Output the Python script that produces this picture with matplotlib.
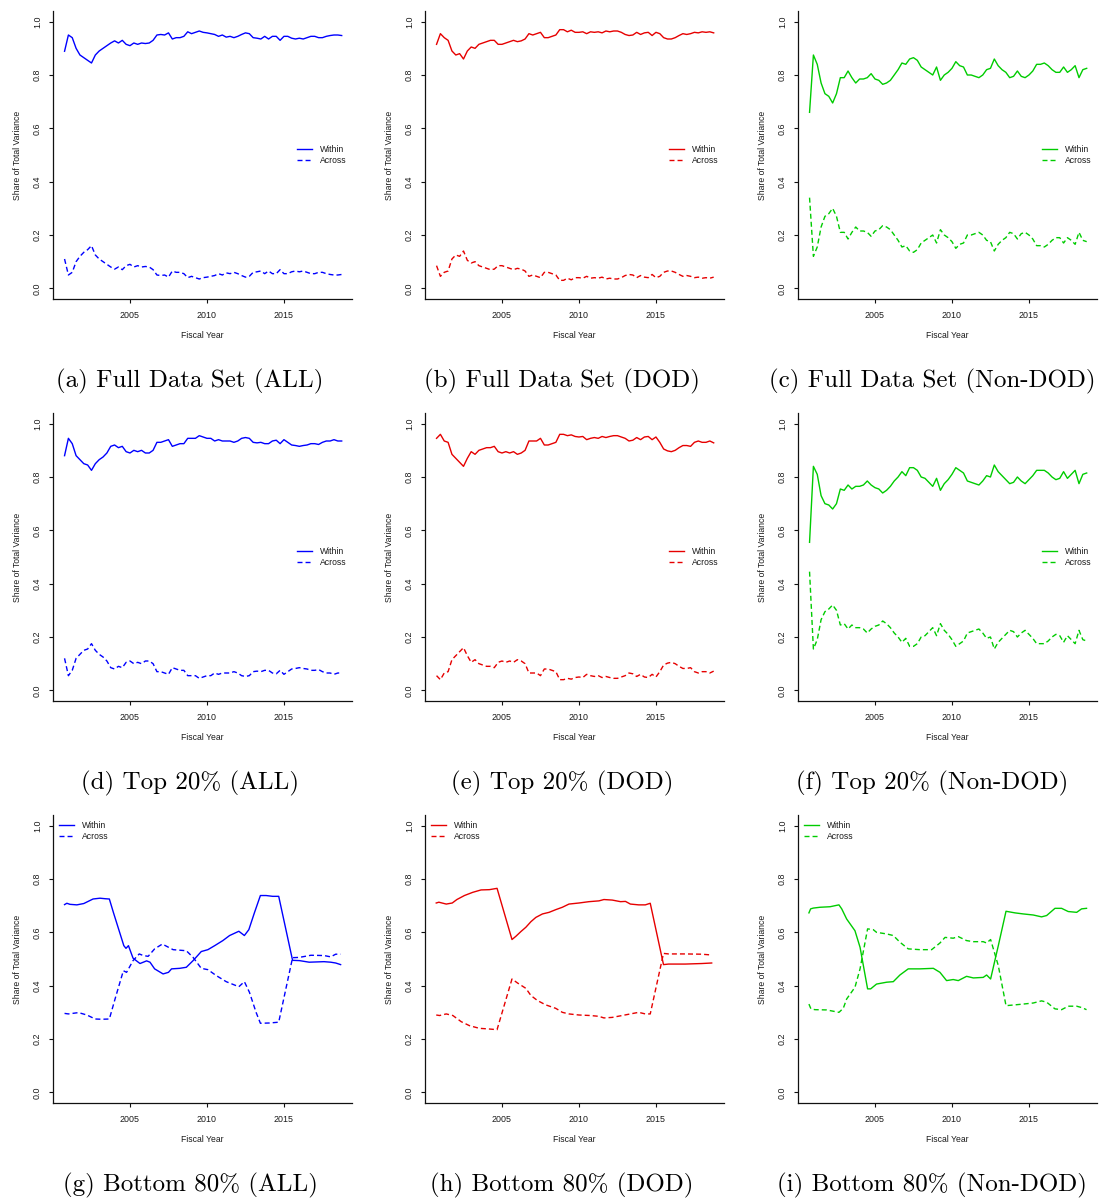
import matplotlib
matplotlib.use("Agg")
import matplotlib.pyplot as plt
from matplotlib.lines import Line2D

# ---------------- data ----------------
# quarterly sampling grid for the top two rows
Q_YEARS = [2000.75,
           2001.0, 2001.25, 2001.5, 2001.75,
           2002.0, 2002.25, 2002.5, 2002.75,
           2003.0, 2003.25, 2003.5, 2003.75,
           2004.0, 2004.25, 2004.5, 2004.75,
           2005.0, 2005.25, 2005.5, 2005.75,
           2006.0, 2006.25, 2006.5, 2006.75,
           2007.0, 2007.25, 2007.5, 2007.75,
           2008.0, 2008.25, 2008.5, 2008.75,
           2009.0, 2009.25, 2009.5, 2009.75,
           2010.0, 2010.25, 2010.5, 2010.75,
           2011.0, 2011.25, 2011.5, 2011.75,
           2012.0, 2012.25, 2012.5, 2012.75,
           2013.0, 2013.25, 2013.5, 2013.75,
           2014.0, 2014.25, 2014.5, 2014.75,
           2015.0, 2015.25, 2015.5, 2015.75,
           2016.0, 2016.25, 2016.5, 2016.75,
           2017.0, 2017.25, 2017.5, 2017.75,
           2018.0, 2018.25, 2018.5, 2018.75]

# (a) Full data set, ALL
A_WITHIN = [0.889,
            0.950, 0.940, 0.900, 0.875,
            0.865, 0.855, 0.845, 0.875,
            0.890, 0.900, 0.910, 0.920,
            0.928, 0.920, 0.930, 0.915,
            0.910, 0.920, 0.915, 0.920,
            0.918, 0.920, 0.930, 0.950,
            0.952, 0.950, 0.958, 0.935,
            0.940, 0.940, 0.945, 0.962,
            0.955, 0.960, 0.965, 0.960,
            0.958, 0.955, 0.952, 0.945,
            0.950, 0.942, 0.945, 0.940,
            0.945, 0.952, 0.958, 0.955,
            0.940, 0.938, 0.935, 0.945,
            0.935, 0.945, 0.945, 0.930,
            0.945, 0.945, 0.938, 0.935,
            0.938, 0.935, 0.940, 0.945,
            0.945, 0.940, 0.940, 0.945,
            0.948, 0.950, 0.950, 0.948]
A_ACROSS = [0.110,
            0.050, 0.060, 0.100, 0.120,
            0.135, 0.145, 0.160, 0.125,
            0.110, 0.100, 0.090, 0.080,
            0.072, 0.080, 0.070, 0.085,
            0.090, 0.080, 0.085, 0.080,
            0.082, 0.080, 0.070, 0.050,
            0.048, 0.050, 0.042, 0.065,
            0.060, 0.060, 0.055, 0.040,
            0.045, 0.040, 0.035, 0.040,
            0.042, 0.045, 0.048, 0.055,
            0.050, 0.058, 0.055, 0.060,
            0.055, 0.048, 0.042, 0.045,
            0.060, 0.062, 0.065, 0.055,
            0.065, 0.055, 0.055, 0.070,
            0.055, 0.055, 0.062, 0.065,
            0.062, 0.065, 0.060, 0.055,
            0.055, 0.060, 0.060, 0.055,
            0.052, 0.050, 0.050, 0.052]

# (b) Full data set, DOD
B_WITHIN = [0.915,
            0.955, 0.940, 0.930, 0.890,
            0.875, 0.880, 0.860, 0.890,
            0.905, 0.900, 0.915, 0.920,
            0.925, 0.930, 0.930, 0.915,
            0.915, 0.920, 0.925, 0.930,
            0.925, 0.928, 0.935, 0.955,
            0.950, 0.955, 0.960, 0.940,
            0.940, 0.945, 0.950, 0.970,
            0.970, 0.962, 0.968, 0.960,
            0.960, 0.962, 0.955, 0.962,
            0.960, 0.962, 0.958, 0.965,
            0.962, 0.965, 0.965, 0.960,
            0.952, 0.948, 0.950, 0.960,
            0.952, 0.958, 0.960, 0.948,
            0.960, 0.955, 0.940, 0.935,
            0.935, 0.940, 0.948, 0.955,
            0.952, 0.955, 0.960, 0.958,
            0.962, 0.960, 0.962, 0.958]
B_ACROSS = [0.085,
            0.045, 0.060, 0.065, 0.110,
            0.125, 0.120, 0.140, 0.105,
            0.095, 0.100, 0.085, 0.080,
            0.075, 0.070, 0.072, 0.085,
            0.085, 0.080, 0.075, 0.070,
            0.075, 0.072, 0.065, 0.045,
            0.050, 0.045, 0.040, 0.060,
            0.060, 0.055, 0.050, 0.030,
            0.030, 0.038, 0.032, 0.040,
            0.040, 0.038, 0.045, 0.038,
            0.040, 0.038, 0.042, 0.035,
            0.038, 0.035, 0.035, 0.040,
            0.048, 0.052, 0.050, 0.040,
            0.048, 0.042, 0.040, 0.052,
            0.040, 0.045, 0.060, 0.065,
            0.065, 0.060, 0.052, 0.045,
            0.048, 0.045, 0.040, 0.042,
            0.038, 0.040, 0.038, 0.042]

# (c) Full data set, Non-DOD
C_WITHIN = [0.660,
            0.875, 0.840, 0.770, 0.730,
            0.720, 0.695, 0.730, 0.790,
            0.790, 0.815, 0.790, 0.770,
            0.785, 0.785, 0.790, 0.805,
            0.785, 0.780, 0.765, 0.770,
            0.780, 0.800, 0.820, 0.845,
            0.840, 0.860, 0.865, 0.855,
            0.830, 0.820, 0.810, 0.800,
            0.830, 0.780, 0.800, 0.810,
            0.825, 0.850, 0.835, 0.830,
            0.800, 0.800, 0.795, 0.790,
            0.800, 0.820, 0.825, 0.860,
            0.835, 0.820, 0.810, 0.790,
            0.795, 0.815, 0.795, 0.790,
            0.800, 0.815, 0.840, 0.840,
            0.845, 0.835, 0.820, 0.810,
            0.810, 0.830, 0.810, 0.820,
            0.835, 0.790, 0.820, 0.825]
C_ACROSS = [0.340,
            0.120, 0.155, 0.230, 0.270,
            0.280, 0.300, 0.270, 0.210,
            0.210, 0.185, 0.210, 0.230,
            0.215, 0.215, 0.210, 0.195,
            0.215, 0.220, 0.235, 0.230,
            0.220, 0.200, 0.180, 0.155,
            0.160, 0.140, 0.135, 0.145,
            0.170, 0.180, 0.190, 0.200,
            0.170, 0.220, 0.200, 0.190,
            0.175, 0.150, 0.165, 0.170,
            0.200, 0.200, 0.205, 0.210,
            0.200, 0.180, 0.175, 0.140,
            0.165, 0.180, 0.190, 0.210,
            0.205, 0.185, 0.205, 0.210,
            0.200, 0.185, 0.160, 0.160,
            0.155, 0.165, 0.180, 0.190,
            0.190, 0.170, 0.190, 0.180,
            0.165, 0.210, 0.180, 0.175]

# (d) Top 20%, ALL
D_WITHIN = [0.880,
            0.945, 0.925, 0.880, 0.865,
            0.850, 0.845, 0.825, 0.850,
            0.865, 0.875, 0.890, 0.915,
            0.920, 0.910, 0.915, 0.895,
            0.890, 0.900, 0.895, 0.900,
            0.890, 0.890, 0.900, 0.930,
            0.930, 0.935, 0.940, 0.915,
            0.920, 0.925, 0.925, 0.945,
            0.945, 0.945, 0.955, 0.950,
            0.945, 0.945, 0.935, 0.940,
            0.935, 0.935, 0.935, 0.930,
            0.935, 0.945, 0.948, 0.945,
            0.930, 0.928, 0.930, 0.925,
            0.925, 0.935, 0.938, 0.925,
            0.940, 0.930, 0.920, 0.918,
            0.915, 0.918, 0.920, 0.925,
            0.925, 0.922, 0.930, 0.935,
            0.935, 0.940, 0.935, 0.935]
D_ACROSS = [0.120,
            0.055, 0.075, 0.120, 0.135,
            0.150, 0.155, 0.175, 0.150,
            0.135, 0.125, 0.110, 0.085,
            0.080, 0.090, 0.085, 0.105,
            0.110, 0.100, 0.105, 0.100,
            0.110, 0.110, 0.100, 0.070,
            0.070, 0.065, 0.060, 0.085,
            0.080, 0.075, 0.075, 0.055,
            0.055, 0.055, 0.045, 0.050,
            0.055, 0.055, 0.065, 0.060,
            0.065, 0.065, 0.065, 0.070,
            0.065, 0.055, 0.052, 0.055,
            0.070, 0.072, 0.070, 0.075,
            0.075, 0.065, 0.062, 0.075,
            0.060, 0.070, 0.080, 0.082,
            0.085, 0.082, 0.080, 0.075,
            0.075, 0.078, 0.070, 0.065,
            0.065, 0.060, 0.065, 0.065]

# (e) Top 20%, DOD
E_WITHIN = [0.945,
            0.960, 0.935, 0.930, 0.885,
            0.870, 0.855, 0.840, 0.870,
            0.895, 0.885, 0.900, 0.905,
            0.910, 0.910, 0.915, 0.895,
            0.890, 0.895, 0.890, 0.895,
            0.885, 0.890, 0.900, 0.935,
            0.935, 0.935, 0.945, 0.920,
            0.920, 0.925, 0.930, 0.960,
            0.960, 0.955, 0.958, 0.952,
            0.950, 0.952, 0.940, 0.945,
            0.948, 0.945, 0.952, 0.948,
            0.952, 0.955, 0.955, 0.950,
            0.945, 0.935, 0.938, 0.948,
            0.940, 0.950, 0.952, 0.940,
            0.950, 0.930, 0.905, 0.898,
            0.895, 0.900, 0.910, 0.918,
            0.918, 0.915, 0.930, 0.935,
            0.930, 0.930, 0.935, 0.928]
E_ACROSS = [0.055,
            0.040, 0.065, 0.070, 0.115,
            0.130, 0.145, 0.160, 0.130,
            0.105, 0.115, 0.100, 0.095,
            0.090, 0.090, 0.085, 0.105,
            0.110, 0.105, 0.110, 0.105,
            0.115, 0.110, 0.100, 0.065,
            0.065, 0.065, 0.055, 0.080,
            0.080, 0.075, 0.070, 0.040,
            0.040, 0.045, 0.042, 0.048,
            0.050, 0.048, 0.060, 0.055,
            0.052, 0.055, 0.048, 0.052,
            0.048, 0.045, 0.045, 0.050,
            0.055, 0.065, 0.062, 0.052,
            0.060, 0.050, 0.048, 0.060,
            0.050, 0.070, 0.095, 0.102,
            0.105, 0.100, 0.090, 0.082,
            0.082, 0.085, 0.070, 0.065,
            0.070, 0.070, 0.065, 0.072]

# (f) Top 20%, Non-DOD
F_WITHIN = [0.555,
            0.840, 0.810, 0.730, 0.700,
            0.695, 0.680, 0.700, 0.755,
            0.750, 0.770, 0.755, 0.765,
            0.765, 0.770, 0.785, 0.770,
            0.760, 0.755, 0.740, 0.750,
            0.765, 0.785, 0.800, 0.820,
            0.805, 0.835, 0.835, 0.825,
            0.800, 0.795, 0.780, 0.765,
            0.795, 0.750, 0.775, 0.790,
            0.810, 0.835, 0.825, 0.815,
            0.785, 0.780, 0.775, 0.770,
            0.785, 0.805, 0.800, 0.845,
            0.820, 0.805, 0.790, 0.775,
            0.780, 0.800, 0.785, 0.775,
            0.790, 0.805, 0.825, 0.825,
            0.825, 0.815, 0.800, 0.790,
            0.795, 0.820, 0.795, 0.810,
            0.825, 0.775, 0.810, 0.815]
F_ACROSS = [0.445,
            0.155, 0.190, 0.265, 0.295,
            0.305, 0.320, 0.300, 0.245,
            0.250, 0.230, 0.245, 0.235,
            0.235, 0.230, 0.215, 0.230,
            0.240, 0.245, 0.260, 0.250,
            0.235, 0.215, 0.200, 0.180,
            0.195, 0.165, 0.165, 0.175,
            0.200, 0.205, 0.220, 0.235,
            0.205, 0.250, 0.225, 0.210,
            0.190, 0.165, 0.175, 0.185,
            0.215, 0.220, 0.225, 0.230,
            0.215, 0.195, 0.200, 0.155,
            0.180, 0.195, 0.210, 0.225,
            0.220, 0.200, 0.215, 0.225,
            0.210, 0.195, 0.175, 0.175,
            0.175, 0.185, 0.200, 0.210,
            0.205, 0.180, 0.205, 0.190,
            0.175, 0.225, 0.190, 0.185]

# (g) Bottom 80%, ALL
G_W_YEARS = [2000.75, 2000.9, 2001.1, 2001.55, 2002.0, 2002.6, 2003.05, 2003.4, 2003.66,
             2003.92, 2004.6, 2004.74, 2004.9, 2005.2, 2005.65, 2006.08, 2006.3, 2006.6,
             2007.15, 2007.5, 2007.7, 2008.23, 2008.66, 2009.1, 2009.63, 2010.06, 2010.5,
             2011.03, 2011.47, 2012.07, 2012.43, 2012.72, 2013.08, 2013.47, 2013.84,
             2014.27, 2014.66, 2015.56, 2016.0, 2016.64, 2017.6, 2018.04, 2018.36, 2018.68]
G_WITHIN = [0.704, 0.709, 0.705, 0.703, 0.708, 0.725, 0.728, 0.726, 0.725,
            0.675, 0.550, 0.540, 0.550, 0.503, 0.483, 0.493, 0.488, 0.463,
            0.444, 0.450, 0.463, 0.465, 0.469, 0.494, 0.528, 0.535, 0.550,
            0.569, 0.588, 0.604, 0.588, 0.610, 0.673, 0.738, 0.738,
            0.735, 0.735, 0.495, 0.494, 0.488, 0.490, 0.488, 0.485, 0.479]
G_A_YEARS = [2000.75, 2001.0, 2001.66, 2002.2, 2002.74, 2003.17, 2003.66, 2004.03,
             2004.57, 2004.78, 2005.2, 2005.6, 2005.86, 2006.18, 2006.6, 2007.1, 2007.5,
             2007.8, 2008.66, 2009.1, 2009.63, 2010.06, 2010.6, 2011.25, 2012.07,
             2012.43, 2012.76, 2013.19, 2013.47, 2014.05, 2014.66, 2015.56, 2016.0,
             2016.75, 2017.6, 2018.04, 2018.36, 2018.68]
G_ACROSS = [0.296, 0.294, 0.299, 0.290, 0.275, 0.274, 0.275, 0.350,
            0.456, 0.450, 0.494, 0.519, 0.513, 0.510, 0.538, 0.556, 0.544,
            0.535, 0.531, 0.506, 0.465, 0.460, 0.438, 0.415, 0.396,
            0.415, 0.375, 0.300, 0.259, 0.260, 0.263, 0.505, 0.506,
            0.514, 0.513, 0.508, 0.518, 0.518]

# (h) Bottom 80%, DOD
H_W_YEARS = [2000.73, 2000.9, 2001.38, 2001.77, 2002.07, 2002.56, 2003.1, 2003.64, 2004.18,
             2004.68, 2005.65, 2005.9, 2006.23, 2006.55, 2006.88, 2007.2, 2007.63, 2008.06,
             2008.49, 2008.92, 2009.35, 2010.0, 2010.65, 2011.3, 2011.62, 2012.16, 2012.7,
             2013.02, 2013.34, 2013.88, 2014.31, 2014.63, 2015.49, 2015.82, 2016.9,
             2017.97, 2018.62]
H_WITHIN = [0.710, 0.713, 0.706, 0.710, 0.723, 0.738, 0.750, 0.759, 0.760,
            0.765, 0.573, 0.585, 0.603, 0.619, 0.640, 0.656, 0.669, 0.675,
            0.685, 0.694, 0.706, 0.710, 0.715, 0.718, 0.723, 0.721, 0.715,
            0.716, 0.706, 0.703, 0.703, 0.709, 0.479, 0.481, 0.481,
            0.483, 0.485]
H_A_YEARS = [2000.73, 2000.95, 2001.38, 2001.81, 2002.35, 2002.89, 2003.53, 2004.07,
             2004.68, 2005.65, 2006.01, 2006.55, 2006.88, 2007.31, 2007.84, 2008.49,
             2008.92, 2009.35, 2010.0, 2010.75, 2011.3, 2011.62, 2012.16, 2012.8,
             2013.34, 2013.88, 2014.31, 2014.63, 2015.49, 2015.82, 2016.9, 2017.97,
             2018.62]
H_ACROSS = [0.290, 0.288, 0.294, 0.288, 0.265, 0.250, 0.240, 0.238,
            0.235, 0.425, 0.410, 0.390, 0.363, 0.344, 0.328, 0.315,
            0.300, 0.294, 0.290, 0.288, 0.285, 0.279, 0.281, 0.288,
            0.294, 0.300, 0.294, 0.294, 0.521, 0.519, 0.519, 0.518,
            0.515]

# (i) Bottom 80%, Non-DOD
I_W_YEARS = [2000.71, 2000.82, 2001.0, 2001.43, 2002.08, 2002.66, 2002.84, 2003.16, 2003.7,
             2004.03, 2004.52, 2004.72, 2005.1, 2005.76, 2006.19, 2006.62, 2007.16, 2007.92,
             2008.79, 2009.22, 2009.65, 2010.08, 2010.41, 2010.95, 2011.39, 2012.03,
             2012.25, 2012.51, 2013.01, 2013.51, 2014.09, 2014.63, 2015.28, 2015.82,
             2016.15, 2016.69, 2017.12, 2017.55, 2018.1, 2018.42, 2018.74]
I_WITHIN = [0.673, 0.688, 0.691, 0.694, 0.696, 0.703, 0.688, 0.650, 0.606,
            0.544, 0.388, 0.388, 0.406, 0.413, 0.415, 0.440, 0.463, 0.463,
            0.465, 0.450, 0.419, 0.423, 0.419, 0.435, 0.429, 0.431,
            0.440, 0.425, 0.550, 0.679, 0.673, 0.669, 0.665, 0.658,
            0.663, 0.690, 0.690, 0.678, 0.675, 0.688, 0.690]
I_A_YEARS = [2000.71, 2000.84, 2001.1, 2001.86, 2002.66, 2002.94, 2003.16, 2003.7,
             2004.03, 2004.52, 2004.89, 2005.1, 2005.76, 2006.19, 2006.62, 2007.16,
             2007.92, 2008.68, 2009.22, 2009.55, 2010.08, 2010.41, 2010.95, 2011.39,
             2012.03, 2012.25, 2012.51, 2013.01, 2013.51, 2014.09, 2014.63, 2015.28,
             2015.82, 2016.15, 2016.69, 2017.12, 2017.55, 2018.1, 2018.42, 2018.74]
I_ACROSS = [0.331, 0.313, 0.310, 0.309, 0.300, 0.315, 0.350, 0.394,
            0.463, 0.613, 0.610, 0.600, 0.594, 0.588, 0.563, 0.538,
            0.535, 0.535, 0.560, 0.581, 0.578, 0.584, 0.569, 0.565,
            0.565, 0.560, 0.573, 0.475, 0.325, 0.328, 0.331, 0.335,
            0.343, 0.338, 0.313, 0.310, 0.323, 0.323, 0.318, 0.310]

CAPTIONS = ["(a) Full Data Set (ALL)", "(b) Full Data Set (DOD)", "(c) Full Data Set (Non-DOD)",
            "(d) Top 20% (ALL)", "(e) Top 20% (DOD)", "(f) Top 20% (Non-DOD)",
            "(g) Bottom 80% (ALL)", "(h) Bottom 80% (DOD)", "(i) Bottom 80% (Non-DOD)"]
SERIES_LABELS = ["Within", "Across"]
Y_TICKS = [0.0, 0.2, 0.4, 0.6, 0.8, 1.0]
Y_TICK_LABELS = ["0.0", "0.2", "0.4", "0.6", "0.8", "1.0"]
X_TICKS = [2005, 2010, 2015]
X_TICK_LABELS = ["2005", "2010", "2015"]

# ---------------- styling / layout ----------------
COLORS = ["#0000FF", "#E60000", "#00CC00"]
FIG_W, FIG_H = 1112, 1200
COL_LEFT = [53, 425, 798]
ROW_TOP = [11, 413, 815]
AX_W, AX_H = 299, 288
CAP_X = [190, 562, 932]
CAP_Y = [381, 783, 1185]
TEXT_COLOR = "#1a1a1a"
SANS = ["Liberation Sans", "DejaVu Sans"]

panels = [
    (Q_YEARS, A_WITHIN, Q_YEARS, A_ACROSS),
    (Q_YEARS, B_WITHIN, Q_YEARS, B_ACROSS),
    (Q_YEARS, C_WITHIN, Q_YEARS, C_ACROSS),
    (Q_YEARS, D_WITHIN, Q_YEARS, D_ACROSS),
    (Q_YEARS, E_WITHIN, Q_YEARS, E_ACROSS),
    (Q_YEARS, F_WITHIN, Q_YEARS, F_ACROSS),
    (G_W_YEARS, G_WITHIN, G_A_YEARS, G_ACROSS),
    (H_W_YEARS, H_WITHIN, H_A_YEARS, H_ACROSS),
    (I_W_YEARS, I_WITHIN, I_A_YEARS, I_ACROSS),
]

fig = plt.figure(figsize=(FIG_W / 100, FIG_H / 100), dpi=100)
fig.patch.set_facecolor("white")

for idx, (wx, wy, ax_years, ay) in enumerate(panels):
    r, c = divmod(idx, 3)
    color = COLORS[c]
    left = COL_LEFT[c] / FIG_W
    bottom = 1 - (ROW_TOP[r] + AX_H) / FIG_H
    ax = fig.add_axes([left, bottom, AX_W / FIG_W, AX_H / FIG_H])
    ax.plot(wx, wy, color=color, lw=1.0, solid_joinstyle="round")
    ax.plot(ax_years, ay, color=color, lw=1.0, dashes=(3.6, 2.2))
    ax.set_xlim(2000.0, 2019.42)
    ax.set_ylim(-0.04, 1.04)
    for s in ("top", "right"):
        ax.spines[s].set_visible(False)
    for s in ("left", "bottom"):
        ax.spines[s].set_linewidth(0.9)
        ax.spines[s].set_color("#111111")
    ax.set_xticks(X_TICKS)
    ax.set_xticklabels(X_TICK_LABELS, fontsize=6.4, family=SANS, color=TEXT_COLOR)
    ax.set_yticks(Y_TICKS)
    ax.set_yticklabels(Y_TICK_LABELS, fontsize=6.4, family=SANS, color=TEXT_COLOR,
                       rotation=90, va="center")
    ax.tick_params(axis="both", direction="out", length=3.0, width=0.8, color="#111111")
    ax.tick_params(axis="x", pad=5.5)
    ax.tick_params(axis="y", pad=5.0)
    ax.text(-0.12, 0.5, "Share of Total Variance", transform=ax.transAxes, rotation=90,
            ha="center", va="center", fontsize=6.2, family=SANS, color=TEXT_COLOR)
    ax.text(0.5, -0.128, "Fiscal Year", transform=ax.transAxes, ha="center", va="center",
            fontsize=6.2, family=SANS, color=TEXT_COLOR)
    handles = [Line2D([], [], color=color, lw=1.0),
               Line2D([], [], color=color, lw=1.0, dashes=(3.6, 2.2))]
    if r < 2:
        loc, anchor = "center left", (0.815, 0.5)
    else:
        loc, anchor = "center left", (0.02, 0.945)
    leg = ax.legend(handles, SERIES_LABELS, loc=loc, bbox_to_anchor=anchor, frameon=False,
                    prop={"family": SANS, "size": 6.2}, handlelength=1.8,
                    handletextpad=0.9, labelspacing=0.2, borderpad=0, borderaxespad=0)
    for t in leg.get_texts():
        t.set_color(TEXT_COLOR)
    fig.text(CAP_X[c] / FIG_W, 1 - CAP_Y[r] / FIG_H, CAPTIONS[idx], ha="center", va="center",
             fontsize=18, family=["cmr10", "DejaVu Serif"], color="black")

fig.savefig("out.png", dpi=100, facecolor="white")
